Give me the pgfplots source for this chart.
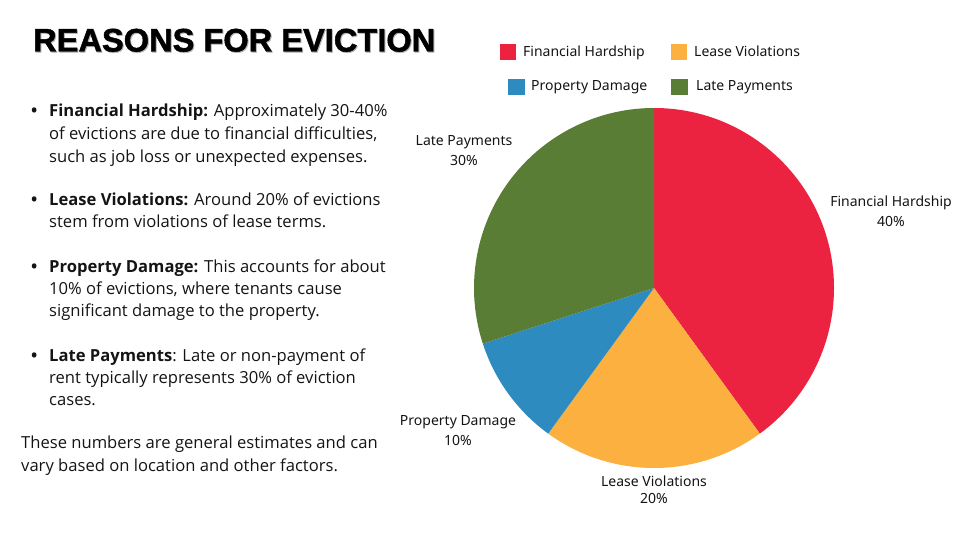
\documentclass[border=0pt]{standalone}
\usepackage{pgfplots}
\pgfplotsset{compat=1.18}
\usepackage{pgfplotstable}
\usepackage{fontspec}
\setmainfont{Open Sans}
\newfontfamily\labelfont{Noto Sans}
\newfontfamily\titlefont{Liberation Sans}[BoldFeatures={FakeBold=1.5}]
\definecolor{fh}{HTML}{EC2340}
\definecolor{lv}{HTML}{FBB040}
\definecolor{pd}{HTML}{2E8BC0}
\definecolor{lp}{HTML}{5A7D36}
\definecolor{txt}{HTML}{141414}

\pgfplotstableread{
value color
40 fh
20 lv
10 pd
30 lp
}\piedata

\begin{document}
\begin{tikzpicture}
\path[use as bounding box] (0,0) rectangle (960pt,536pt);
\begin{axis}[
  at={(0,0)}, anchor=origin,
  x=1pt, y=1pt,
  xmin=0, xmax=960, ymin=0, ymax=536,
  hide axis, clip=false, scale only axis,
]
% pie
\def\cum{0}
\pgfplotsforeachungrouped \i in {0,...,3}{%
  \pgfplotstablegetelem{\i}{value}\of\piedata \let\v\pgfplotsretval
  \pgfplotstablegetelem{\i}{color}\of\piedata \let\c\pgfplotsretval
  \pgfmathsetmacro\a{90-3.6*\cum}%
  \pgfmathsetmacro\b{90-3.6*(\cum+\v)}%
  \pgfmathsetmacro\cum{\cum+\v}%
  \pgfmathsetmacro\sx{654+180*cos(\a)}%
  \pgfmathsetmacro\sy{248+180*sin(\a)}%
  \edef\temp{\noexpand\fill[\c] (axis cs:654,248) -- (axis cs:\sx,\sy) arc[start angle=\a, end angle=\b, radius=180pt] -- cycle;}%
  \temp
}
% pie labels
\begin{scope}[every node/.style={inner sep=0pt, anchor=base, font=\labelfont\fontsize{14}{16}\selectfont, text=txt}]
\node at (axis cs:891,{536-206.5}) {Financial Hardship};
\node at (axis cs:891,{536-226.5}) {40\%};
\node at (axis cs:464,{536-145.5}) {Late Payments};
\node at (axis cs:464,{536-165.5}) {30\%};
\node at (axis cs:458,{536-425.5}) {Property Damage};
\node at (axis cs:458,{536-445.5}) {10\%};
\node at (axis cs:654,{536-486.5}) {Lease Violations};
\node at (axis cs:654,{536-503}) {20\%};
\end{scope}
% legend
\fill[fh] (axis cs:499.5,{536-44}) rectangle (axis cs:516,{536-60});
\fill[lv] (axis cs:670.5,{536-44}) rectangle (axis cs:687,{536-60});
\fill[pd] (axis cs:508,{536-79}) rectangle (axis cs:524.5,{536-95});
\fill[lp] (axis cs:671,{536-79}) rectangle (axis cs:687.5,{536-95});
\begin{scope}[every node/.style={inner sep=0pt, anchor=base west, font=\labelfont\fontsize{14}{16}\selectfont, text=txt}]
\node at (axis cs:523,{536-56.5}) {Financial Hardship};
\node at (axis cs:694,{536-56.5}) {Lease Violations};
\node at (axis cs:531,{536-91}) {Property Damage};
\node at (axis cs:696,{536-91}) {Late Payments};
\end{scope}
% title
\node[inner sep=0pt, anchor=base west, text=gray!60] at (axis cs:34,{536-52.5}) {\titlefont\bfseries\fontsize{32.6}{36}\selectfont REASONS FOR EVICTION};
\node[inner sep=0pt, anchor=base west, text=black] at (axis cs:33,{536-51.5}) {\titlefont\bfseries\fontsize{32.6}{36}\selectfont REASONS FOR EVICTION};
% body text
\begin{scope}[every node/.style={inner sep=0pt, anchor=base west, font=\fontsize{16.6}{20}\selectfont, text=txt}]
\node at (axis cs:31,{536-117}) {\textbf{•}};
\node at (axis cs:49,{536-117}) {\textbf{Financial Hardship:} Approximately 30-40\%};
\node at (axis cs:49,{536-140}) {of evictions are due to financial difficulties,};
\node at (axis cs:49,{536-163}) {such as job loss or unexpected expenses.};
\node at (axis cs:31,{536-206}) {\textbf{•}};
\node at (axis cs:49,{536-206}) {\textbf{Lease Violations:} Around 20\% of evictions};
\node at (axis cs:49,{536-228}) {stem from violations of lease terms.};
\node at (axis cs:31,{536-273}) {\textbf{•}};
\node at (axis cs:49,{536-273}) {\textbf{Property Damage:} This accounts for about};
\node at (axis cs:49,{536-295}) {10\% of evictions, where tenants cause};
\node at (axis cs:49,{536-317}) {significant damage to the property.};
\node at (axis cs:31,{536-361}) {\textbf{•}};
\node at (axis cs:49,{536-361}) {\textbf{Late Payments}: Late or non-payment of};
\node at (axis cs:49,{536-383}) {rent typically represents 30\% of eviction};
\node at (axis cs:49,{536-405}) {cases.};
\node at (axis cs:21,{536-448}) {These numbers are general estimates and can};
\node at (axis cs:21,{536-471}) {vary based on location and other factors.};
\end{scope}
\end{axis}
\end{tikzpicture}
\end{document}
